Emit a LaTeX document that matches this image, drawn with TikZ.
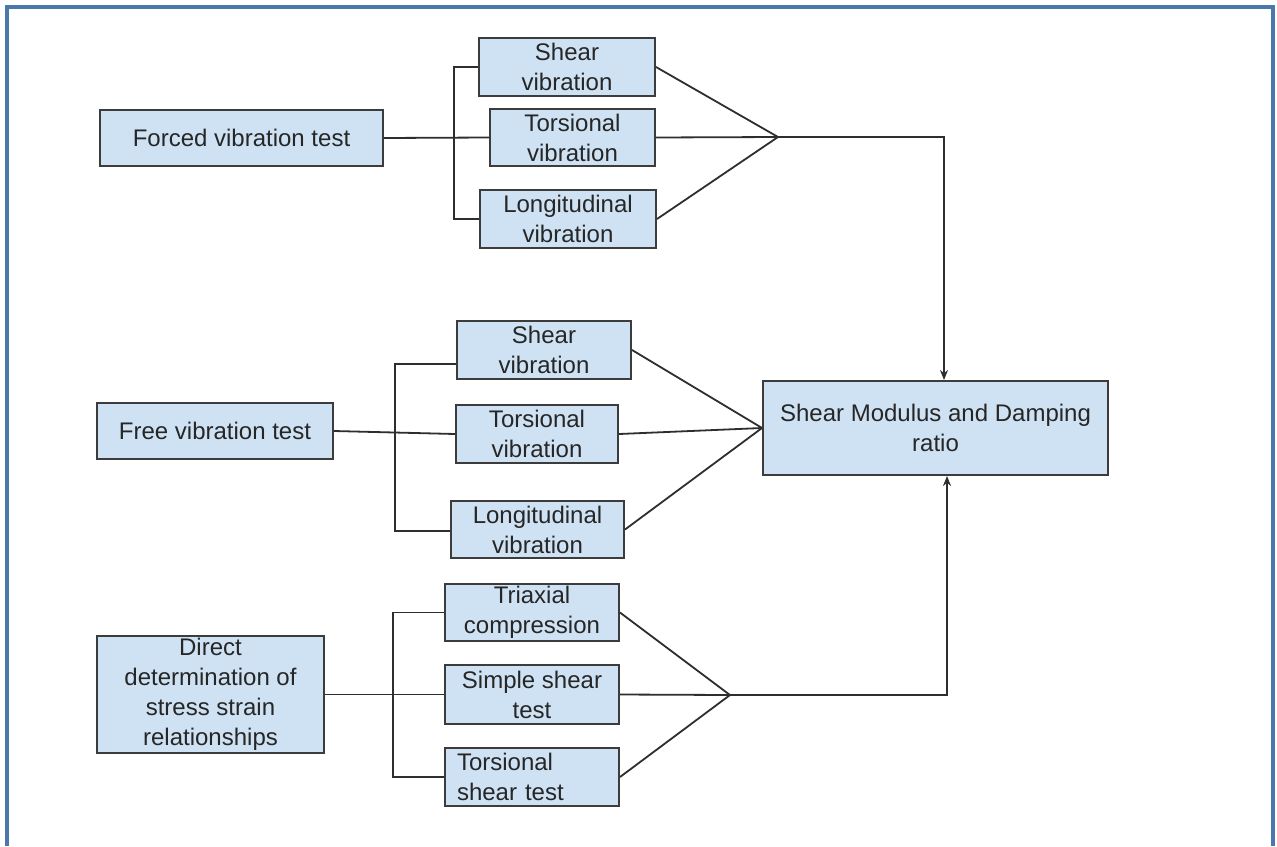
\documentclass[tikz,border=0pt]{standalone}
\usepackage{fontspec}
\setmainfont{Liberation Sans}
\usetikzlibrary{arrows.meta}
\definecolor{boxfill}{HTML}{CFE2F3}
\definecolor{boxline}{HTML}{3C3C3C}
\definecolor{frameblue}{HTML}{4A78AA}
\definecolor{wirecol}{HTML}{2E2E2E}
\begin{document}
\begin{tikzpicture}[x=0.5pt,y=-0.5pt,
 box/.style={draw=boxline, line width=1pt, fill=boxfill, inner sep=0pt, align=center,
   font=\fontsize{12}{15}\selectfont, text=black!85},
 wire/.style={draw=wirecol, line width=0.9pt},
 arr/.style={wire, -{Stealth[length=5pt,width=4pt]}}]
\useasboundingbox (0,0) rectangle (1277,846);
\fill[white] (0,0) rectangle (1277,846);
\draw[frameblue, line width=1.8pt] (7,846) -- (7,7) -- (1273,7) -- (1273,846);

% nodes
\node[box, minimum width=141.5pt, minimum height=28pt] (forced) at (241.5,138) {Forced vibration test};
\node[box, minimum width=88pt, minimum height=29pt] (sv1) at (567,67) {Shear\\vibration};
\node[box, minimum width=82.5pt, minimum height=28.5pt] (tv1) at (572.5,137.5) {Torsional\\vibration};
\node[box, minimum width=88pt, minimum height=29pt] (lv1) at (568,219) {Longitudinal\\vibration};

\node[box, minimum width=118pt, minimum height=28pt] (free) at (215,431) {Free vibration test};
\node[box, minimum width=87pt, minimum height=29pt] (sv2) at (544,350) {Shear\\vibration};
\node[box, minimum width=81pt, minimum height=29pt] (tv2) at (537,434) {Torsional\\vibration};
\node[box, minimum width=86.5pt, minimum height=28.5pt] (lv2) at (537.5,529.5) {Longitudinal\\vibration};

\node[box, minimum width=113.5pt, minimum height=58.5pt] (direct) at (210.5,694.5) {Direct\\determination of\\stress strain\\relationships};
\node[box, minimum width=87pt, minimum height=28.5pt] (tri) at (532,612.5) {Triaxial\\compression};
\node[box, minimum width=87pt, minimum height=29.5pt] (simple) at (532,694.5) {Simple shear\\test};
\node[box, minimum width=87pt, minimum height=29pt, align=left, text width=75pt] (tshear) at (532,777) {Torsional\\shear test};

\node[box, minimum width=172.5pt, minimum height=47pt] (result) at (935.5,428) {Shear Modulus and Damping\\ratio};

% coordinates
\coordinate (c1) at (778,137);
\coordinate (c3) at (730,695);
\coordinate (ax) at (944,0);
\coordinate (bx) at (947,0);
\coordinate (b2t) at (395,364);
\coordinate (b2b) at (395,531);

% top group
\draw[wire] (forced.east) -- (tv1.west);
\draw[wire] (sv1.west) -- ++(-24,0) |- (lv1.west);
\draw[wire] (sv1.east) -- (c1);
\draw[wire] (tv1.east) -- (c1);
\draw[wire] (lv1.east) -- (c1);
\draw[arr] (c1) -| (result.north -| ax);

% middle group
\draw[wire] (free.east) -- (tv2.west);
\draw[wire] (sv2.west |- b2t) -- (b2t) -- (b2b) -- (lv2.west |- b2b);
\draw[wire] (sv2.east) -- (result.west);
\draw[wire] (tv2.east) -- (result.west);
\draw[wire] (lv2.east) -- (result.west);

% bottom group
\draw[wire] (direct.east) -- (simple.west);
\draw[wire] (tri.west) -- ++(-51,0) |- (tshear.west);
\draw[wire] (tri.east) -- (c3);
\draw[wire] (simple.east) -- (c3);
\draw[wire] (tshear.east) -- (c3);
\draw[arr] (c3) -| (result.south -| bx);
\end{tikzpicture}
\end{document}
